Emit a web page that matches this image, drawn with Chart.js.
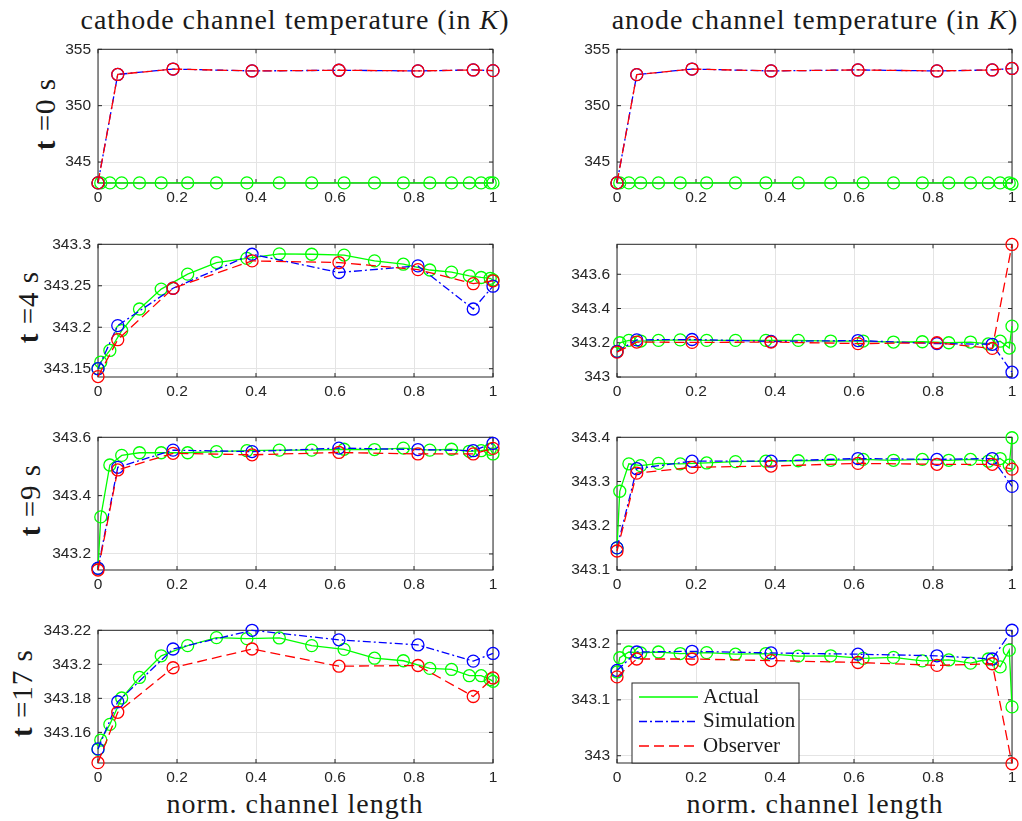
<!DOCTYPE html>
<html>
<head>
<meta charset="utf-8">
<script src="https://cdn.jsdelivr.net/npm/chart.js@4/dist/chart.umd.min.js"></script>
<style>
  body { margin: 0; background: #fff; }
  #page { position: relative; width: 1022px; height: 821px; overflow: hidden; }
  #page canvas { position: absolute; }
  .title, .xlabel, .rowlabel {
    position: absolute;
    font-family: "Liberation Serif", serif;
    color: #1a1a1a;
    white-space: nowrap;
    text-align: center;
  }
  .title, .xlabel { font-size: 28px; letter-spacing: 1px; line-height: 30px; width: 500px; }
  .rowlabel { font-size: 29px; letter-spacing: 1px; line-height: 30px; transform: translate(-50%, -50%) rotate(-90deg); }
</style>
</head>
<body>
<div id="page">
  <div class="title" style="left:45px; top:5px;">cathode channel temperature (in <i>K</i>)</div>
  <div class="title" style="left:565px; top:5px;">anode channel temperature (in <i>K</i>)</div>
  <div class="rowlabel" style="left:45px; top:114px;"><b>t</b> =0 s</div>
  <div class="rowlabel" style="left:28px; top:307px;"><b>t</b> =4 s</div>
  <div class="rowlabel" style="left:30px; top:500px;"><b>t</b> =9 s</div>
  <div class="rowlabel" style="left:22px; top:693px;"><b>t</b> =17 s</div>
  <div class="xlabel" style="left:45px; top:789px;">norm. channel length</div>
  <div class="xlabel" style="left:565px; top:789px;">norm. channel length</div>
</div>
<script>
// Grid positions along the channel
const xActual = [0, 0.007, 0.03, 0.06, 0.105, 0.16, 0.227, 0.30, 0.377, 0.459, 0.541, 0.623, 0.70, 0.773, 0.84, 0.895, 0.94, 0.97, 0.993, 1];
const xModel = [0, 0.05, 0.19, 0.39, 0.61, 0.81, 0.95, 1];
const xTicks = [0, 0.2, 0.4, 0.6, 0.8, 1];

// t = 0 s
const cathodeT0Actual = [343.15, 343.15, 343.15, 343.15, 343.15, 343.15, 343.15, 343.15, 343.15, 343.15, 343.15, 343.15, 343.15, 343.15, 343.15, 343.15, 343.15, 343.15, 343.15, 343.15];
const cathodeT0Sim = [343.15, 352.77, 353.25, 353.08, 353.14, 353.08, 353.17, 353.11];
const cathodeT0Obs = [343.15, 352.77, 353.25, 353.08, 353.14, 353.08, 353.17, 353.11];
const anodeT0Actual = [343.15, 343.15, 343.15, 343.15, 343.15, 343.15, 343.15, 343.15, 343.15, 343.15, 343.15, 343.15, 343.15, 343.15, 343.15, 343.15, 343.15, 343.15, 343.15, 343.05];
const anodeT0Sim = [343.15, 352.75, 353.25, 353.08, 353.17, 353.08, 353.17, 353.3];
const anodeT0Obs = [343.15, 352.75, 353.25, 353.08, 353.17, 353.08, 353.17, 353.3];
const ticksT0 = [345, 350, 355];

// t = 4 s
const cathodeT4Actual = [343.15, 343.158, 343.172, 343.196, 343.222, 343.246, 343.264, 343.278, 343.283, 343.2885, 343.288, 343.287, 343.28, 343.276, 343.269, 343.2665, 343.262, 343.26, 343.259, 343.257];
const cathodeT4Sim = [343.15, 343.202, 343.247, 343.288, 343.266, 343.274, 343.222, 343.2495];
const cathodeT4Obs = [343.1405, 343.185, 343.247, 343.280, 343.278, 343.2695, 343.2525, 343.256];
const cathodeT4Ticks = [343.15, 343.2, 343.25, 343.3];
const anodeT4Actual = [343.15, 343.2, 343.214, 343.21, 343.214, 343.217, 343.214, 343.214, 343.214, 343.214, 343.21, 343.21, 343.204, 343.206, 343.2, 343.204, 343.193, 343.209, 343.169, 343.297];
const anodeT4Sim = [343.149, 343.217, 343.219, 343.208, 343.213, 343.195, 343.191, 343.028];
const anodeT4Obs = [343.145, 343.204, 343.202, 343.204, 343.195, 343.2, 343.167, 343.774];
const anodeT4Ticks = [343, 343.2, 343.4, 343.6];

// t = 9 s
const cathodeT9Actual = [343.15, 343.327, 343.505, 343.538, 343.547, 343.547, 343.547, 343.551, 343.554, 343.556, 343.556, 343.559, 343.558, 343.563, 343.556, 343.559, 343.552, 343.554, 343.559, 343.543];
const cathodeT9Sim = [343.151, 343.497, 343.556, 343.551, 343.563, 343.558, 343.554, 343.579];
const cathodeT9Obs = [343.145, 343.488, 343.545, 343.540, 343.548, 343.543, 343.543, 343.562];
const cathodeT9Ticks = [343.2, 343.4, 343.6];
const anodeT9Actual = [343.15, 343.278, 343.340, 343.336, 343.341, 343.340, 343.342, 343.345, 343.346, 343.347, 343.348, 343.350, 343.348, 343.350, 343.348, 343.350, 343.346, 343.352, 343.337, 343.399];
const anodeT9Sim = [343.150, 343.329, 343.346, 343.346, 343.352, 343.350, 343.352, 343.289];
const anodeT9Obs = [343.143, 343.319, 343.332, 343.335, 343.341, 343.339, 343.339, 343.328];
const anodeT9Ticks = [343.1, 343.2, 343.3, 343.4];

// t = 17 s
const cathodeT17Actual = [343.15, 343.1555, 343.1647, 343.1802, 343.1923, 343.205, 343.211, 343.2157, 343.2151, 343.2155, 343.211, 343.2088, 343.2036, 343.2021, 343.1976, 343.197, 343.1933, 343.1933, 343.191, 343.19];
const cathodeT17Sim = [343.1503, 343.178, 343.209, 343.22, 343.2144, 343.2114, 343.2019, 343.2064];
const cathodeT17Obs = [343.1422, 343.1718, 343.198, 343.209, 343.1989, 343.1993, 343.1811, 343.192];
const cathodeT17Ticks = [343.16, 343.18, 343.2, 343.22];
const anodeT17Actual = [343.15, 343.1754, 343.1857, 343.184, 343.1857, 343.1829, 343.1846, 343.1817, 343.1829, 343.1783, 343.1789, 343.1743, 343.176, 343.1697, 343.1714, 343.1657, 343.1731, 343.159, 343.189, 343.0874];
const anodeT17Sim = [343.1526, 343.1857, 343.1869, 343.184, 343.1817, 343.1789, 343.1731, 343.2246];
const anodeT17Obs = [343.1411, 343.1731, 343.1731, 343.1703, 343.1669, 343.1617, 343.1646, 342.9857];
const anodeT17Ticks = [343, 343.1, 343.2];

const panels = [
  { col: 0, row: 0, actual: cathodeT0Actual, sim: cathodeT0Sim, obs: cathodeT0Obs, min: 343.14, max: 355, ticks: ticksT0 },
  { col: 1, row: 0, actual: anodeT0Actual, sim: anodeT0Sim, obs: anodeT0Obs, min: 343.14, max: 355, ticks: ticksT0 },
  { col: 0, row: 1, actual: cathodeT4Actual, sim: cathodeT4Sim, obs: cathodeT4Obs, min: 343.14, max: 343.3, ticks: cathodeT4Ticks },
  { col: 1, row: 1, actual: anodeT4Actual, sim: anodeT4Sim, obs: anodeT4Obs, min: 343, max: 343.775, ticks: anodeT4Ticks },
  { col: 0, row: 2, actual: cathodeT9Actual, sim: cathodeT9Sim, obs: cathodeT9Obs, min: 343.145, max: 343.6, ticks: cathodeT9Ticks },
  { col: 1, row: 2, actual: anodeT9Actual, sim: anodeT9Sim, obs: anodeT9Obs, min: 343.1, max: 343.4, ticks: anodeT9Ticks },
  { col: 0, row: 3, actual: cathodeT17Actual, sim: cathodeT17Sim, obs: cathodeT17Obs, min: 343.142, max: 343.22, ticks: cathodeT17Ticks },
  { col: 1, row: 3, actual: anodeT17Actual, sim: anodeT17Sim, obs: anodeT17Obs, min: 342.987, max: 343.2245, ticks: anodeT17Ticks, legend: true }
];

// Plot area edges on the page
const colLeft = [98, 617];
const colRight = [493, 1012];
const rowTop = [43, 238, 431, 624];
const rowBottom = [183, 377, 570, 763];
const Y_AXIS_W = 60, X_AXIS_H = 30, PAD_TOP = 10, PAD_RIGHT = 10;

const AXIS_COLOR = '#262626';
const TICK_FONT = { family: '"Liberation Sans", Arial, sans-serif', size: 15.5 };

// Box around the axes with inward tick marks on all four sides
const framePlugin = {
  id: 'frame',
  beforeDatasetsDraw(chart) {
    const { ctx, chartArea: a, scales } = chart;
    ctx.save();
    ctx.strokeStyle = AXIS_COLOR;
    ctx.lineWidth = 1;
    ctx.strokeRect(a.left, a.top, a.right - a.left, a.bottom - a.top);
    ctx.beginPath();
    scales.x.ticks.forEach(t => {
      const px = scales.x.getPixelForValue(t.value);
      ctx.moveTo(px, a.bottom); ctx.lineTo(px, a.bottom - 4);
      ctx.moveTo(px, a.top); ctx.lineTo(px, a.top + 4);
    });
    scales.y.ticks.forEach(t => {
      const py = scales.y.getPixelForValue(t.value);
      ctx.moveTo(a.left, py); ctx.lineTo(a.left + 4, py);
      ctx.moveTo(a.right, py); ctx.lineTo(a.right - 4, py);
    });
    ctx.stroke();
    ctx.restore();
  }
};

// Boxed legend in the lower left corner of the plot area
const boxLegendPlugin = {
  id: 'boxLegend',
  afterDatasetsDraw(chart) {
    const { ctx, chartArea: a } = chart;
    const w = 167, h = 80;
    const x = a.left + 15, y = a.bottom - h;
    ctx.save();
    ctx.fillStyle = '#fff';
    ctx.fillRect(x, y, w, h);
    ctx.strokeStyle = AXIS_COLOR;
    ctx.lineWidth = 1;
    ctx.strokeRect(x, y, w, h);
    ctx.font = '21px "Liberation Serif", serif';
    ctx.textBaseline = 'middle';
    chart.data.datasets.forEach((ds, i) => {
      const ly = y + 14 + i * 24.5;
      ctx.strokeStyle = ds.borderColor;
      ctx.lineWidth = ds.borderWidth;
      ctx.setLineDash(ds.borderDash || []);
      ctx.beginPath();
      ctx.moveTo(x + 7, ly);
      ctx.lineTo(x + 66, ly);
      ctx.stroke();
      ctx.setLineDash([]);
      ctx.fillStyle = '#1a1a1a';
      ctx.fillText(ds.label, x + 71, ly);
    });
    ctx.restore();
  }
};

function toPoints(xs, ys) {
  return xs.map((x, i) => ({ x, y: ys[i] }));
}

function makeDataset(label, xs, ys, color, dash, order) {
  return {
    label,
    data: toPoints(xs, ys),
    borderColor: color,
    borderWidth: 1.3,
    borderDash: dash,
    pointStyle: 'circle',
    pointRadius: 6,
    pointBorderWidth: 1.3,
    pointBorderColor: color,
    pointBackgroundColor: 'rgba(0,0,0,0)',
    tension: 0,
    clip: false,
    order
  };
}

function formatTick(v) {
  return String(parseFloat(v.toFixed(4)));
}

function drawPanel(p) {
  const page = document.getElementById('page');
  const canvas = document.createElement('canvas');
  const w = colRight[p.col] - colLeft[p.col] + Y_AXIS_W + PAD_RIGHT;
  const h = rowBottom[p.row] - rowTop[p.row] + PAD_TOP + X_AXIS_H;
  canvas.width = w;
  canvas.height = h;
  canvas.style.left = (colLeft[p.col] - Y_AXIS_W) + 'px';
  canvas.style.top = (rowTop[p.row] - PAD_TOP) + 'px';
  page.appendChild(canvas);

  new Chart(canvas.getContext('2d'), {
    type: 'line',
    data: {
      datasets: [
        makeDataset('Actual', xActual, p.actual, '#00ff00', [], 2),
        makeDataset('Simulation', xModel, p.sim, '#0000ff', [8, 3, 2, 3], 1),
        makeDataset('Observer', xModel, p.obs, '#ff0000', [10, 5], 0)
      ]
    },
    options: {
      responsive: false,
      animation: false,
      devicePixelRatio: 1,
      layout: { padding: { top: PAD_TOP, right: PAD_RIGHT, left: 0, bottom: 0 } },
      plugins: { legend: { display: false }, tooltip: { enabled: false } },
      scales: {
        x: {
          type: 'linear',
          min: 0, max: 1,
          afterBuildTicks: s => { s.ticks = xTicks.map(v => ({ value: v })); },
          afterFit: s => { s.height = X_AXIS_H; },
          grid: { color: '#e4e4e4', lineWidth: 1, drawTicks: false },
          border: { display: false },
          ticks: { color: AXIS_COLOR, font: TICK_FONT, padding: 5, maxRotation: 0, callback: formatTick }
        },
        y: {
          type: 'linear',
          min: p.min, max: p.max,
          afterBuildTicks: s => { s.ticks = p.ticks.map(v => ({ value: v })); },
          afterFit: s => { s.width = Y_AXIS_W; },
          grid: { color: '#e4e4e4', lineWidth: 1, drawTicks: false },
          border: { display: false },
          ticks: { color: AXIS_COLOR, font: TICK_FONT, padding: 7, callback: formatTick }
        }
      }
    },
    plugins: p.legend ? [framePlugin, boxLegendPlugin] : [framePlugin]
  });
}

panels.forEach(drawPanel);
</script>
</body>
</html>
